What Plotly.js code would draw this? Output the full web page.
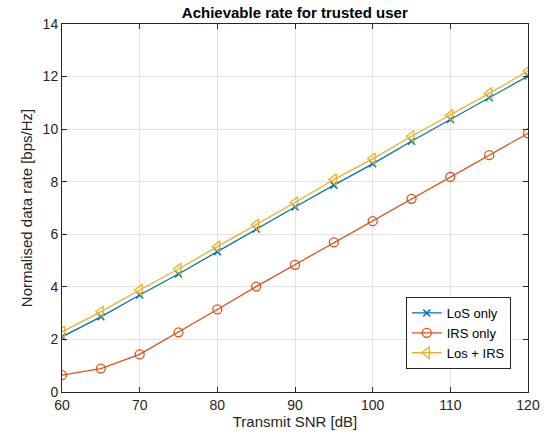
<!DOCTYPE html>
<html>
<head>
<meta charset="utf-8">
<script src="https://cdn.plot.ly/plotly-3.0.1.min.js"></script>
<style>html,body{margin:0;padding:0;background:#fff;}#chart{width:551px;height:440px;}</style>
</head>
<body>
<div id="chart"></div>
<script>
const snr = [60, 65, 70, 75, 80, 85, 90, 95, 100, 105, 110, 115, 120];
const losOnly = [2.10, 2.86, 3.69, 4.49, 5.34, 6.20, 7.04, 7.87, 8.68, 9.54, 10.37, 11.20, 12.02];
const irsOnly = [0.64, 0.89, 1.43, 2.27, 3.14, 4.01, 4.84, 5.69, 6.50, 7.35, 8.18, 9.01, 9.84];
const losIrs = [2.29, 3.05, 3.88, 4.68, 5.53, 6.36, 7.21, 8.08, 8.87, 9.73, 10.53, 11.36, 12.21];
const seriesNames = ['LoS only', 'IRS only', 'Los + IRS'];
const xTicks = [60, 70, 80, 90, 100, 110, 120];
const yTicks = [0, 2, 4, 6, 8, 10, 12, 14];

const traces = [
  {x: snr, y: losOnly, name: seriesNames[0], mode: 'lines+markers',
   line: {color: '#0072BD', width: 1.3}, marker: {symbol: 'x-thin-open', size: 7, color: '#0072BD', line: {width: 1.5, color: '#0072BD'}}},
  {x: snr, y: irsOnly, name: seriesNames[1], mode: 'lines+markers',
   line: {color: '#D95319', width: 1.3}, marker: {symbol: 'circle-open', size: 9, color: '#D95319', line: {width: 1.3}}},
  {x: snr, y: losIrs, name: seriesNames[2], mode: 'lines+markers',
   line: {color: '#EDB120', width: 1.3}, marker: {symbol: 'triangle-left-open', size: 10, color: '#EDB120', line: {width: 1.3}}}
];

const axisCommon = {
  showline: true, mirror: 'ticks', linecolor: '#262626', linewidth: 1,
  ticks: 'inside', ticklen: 5, tickcolor: '#262626',
  showgrid: true, gridcolor: '#e3e3e3', gridwidth: 1, zeroline: false,
  tickfont: {family: 'Liberation Sans, Arial, sans-serif', size: 14, color: '#262626'}
};

const layout = {
  width: 551, height: 440,
  margin: {l: 62, r: 23, t: 24, b: 48},
  paper_bgcolor: '#fff', plot_bgcolor: '#fff',
  font: {family: 'Liberation Sans, Arial, sans-serif', color: '#262626'},
  title: {text: '<b>Achievable rate for trusted user</b>', font: {size: 15, color: '#000'}, x: 0.535, xanchor: 'center', y: 0.97, yanchor: 'middle'},
  xaxis: Object.assign({}, axisCommon, {range: [60, 120], tickvals: xTicks,
    title: {text: 'Transmit SNR [dB]', font: {size: 15, color: '#262626'}, standoff: 2}}),
  yaxis: Object.assign({}, axisCommon, {range: [0, 14], tickvals: yTicks,
    title: {text: 'Normalised data rate [bps/Hz]', font: {size: 15, color: '#262626'}, standoff: 6}}),
  legend: {x: 0.963, y: 0.0625, xanchor: 'right', yanchor: 'bottom',
    bgcolor: '#fff', bordercolor: '#262626', borderwidth: 1,
    font: {size: 13, color: '#000'}, tracegroupgap: 0},
  showlegend: true
};

Plotly.newPlot('chart', traces, layout, {displayModeBar: false, staticPlot: true});
</script>
</body>
</html>
